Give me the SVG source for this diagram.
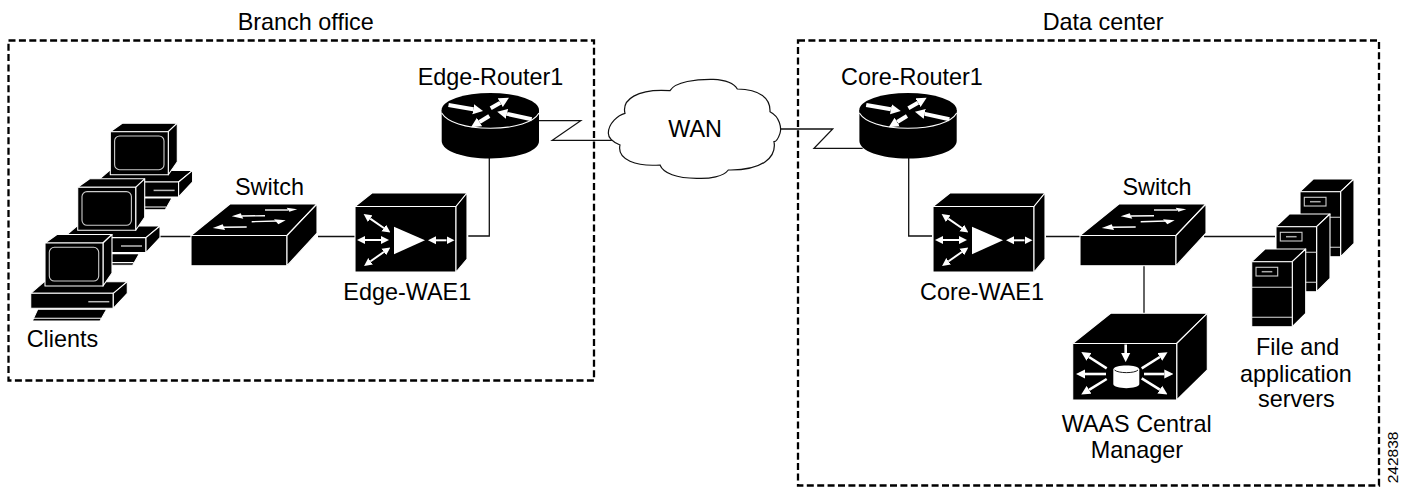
<svg xmlns="http://www.w3.org/2000/svg" width="1404" height="487" viewBox="0 0 1404 487">
<style>
text{font-family:"Liberation Sans",Arial,sans-serif;font-size:23.4px;fill:#000}
.box{fill:none;stroke:#000;stroke-width:2.3;stroke-dasharray:7 3.4}
.con{fill:none;stroke:#111;stroke-width:1.3}
.k{fill:#000;stroke:#fff;stroke-width:1.1;stroke-linejoin:round}
.g{fill:none;stroke:#ccc;stroke-width:1.1}
.w{fill:#fff;stroke:none}
.a4{stroke:#fff;stroke-width:4;fill:none;marker-end:url(#h)}
.a2{stroke:#fff;stroke-width:2;fill:none;marker-start:url(#hs);marker-end:url(#hs)}
.a1{stroke:#fff;stroke-width:1.4;fill:none}
.am{stroke:#fff;stroke-width:2.6;fill:none;marker-end:url(#hm)}
</style>
<defs>
<marker id="h" viewBox="0 0 10 10" refX="0" refY="5" markerWidth="2.5" markerHeight="2.8" orient="auto"><path d="M0,0L10,5L0,10z" fill="#fff"/></marker>
<marker id="hs" viewBox="0 0 10 10" refX="0" refY="5" markerWidth="4" markerHeight="4.4" orient="auto-start-reverse"><path d="M0,0L10,5L0,10z" fill="#fff"/></marker>
<marker id="hm" viewBox="0 0 10 10" refX="0" refY="5" markerWidth="3.5" markerHeight="3.8" orient="auto"><path d="M0,0L10,5L0,10z" fill="#fff"/></marker>
<g id="pc">
<polygon class="k" points="30.7,293.3 44.3,281.7 127.3,281.7 113.3,293.3"/>
<rect class="k" x="30.7" y="293.3" width="82.6" height="15"/>
<polygon class="k" points="127.3,281.7 127.3,293.3 113.3,308.3 113.3,293.3"/>
<line x1="88.3" y1="301.7" x2="109.3" y2="301.7" stroke="#bbb" stroke-width="1.5"/>
<polygon class="k" points="37.7,309.3 106.7,309.3 100,321 32.3,321"/>
<line x1="33.5" y1="318.3" x2="101" y2="318.3" stroke="#fff" stroke-width="1.1"/>
<polygon class="k" points="45,243 57,234.5 112,234.5 103,243"/>
<polygon class="k" points="103,243 112,234.5 112,273 103,286"/>
<rect class="k" x="45" y="243" width="58" height="43"/>
<rect class="g" x="49.3" y="247.3" width="49.4" height="33.7" rx="5"/>
</g>
<g id="switch">
<polygon class="k" points="191,235.5 230,204 317,204 287,235.5"/>
<rect class="k" x="191" y="235.5" width="96" height="30.2"/>
<polygon class="k" points="317,204 317,233 287,265.7 287,235.5"/>
<line class="a1" x1="265" y1="210" x2="288" y2="210"/>
<polygon class="w" points="286.7,207.7 297.3,209.3 289.3,211.7"/>
<line class="a1" x1="265" y1="215.7" x2="241.7" y2="216"/>
<polygon class="w" points="240.7,213.3 231.7,216.3 243.3,218.7"/>
<line class="a1" x1="251.7" y1="221.7" x2="276.7" y2="221"/>
<polygon class="w" points="274,219.3 285.7,220.3 278.3,224.3"/>
<line class="a1" x1="246.7" y1="227" x2="221.7" y2="227.3"/>
<polygon class="w" points="222.7,224.3 212.7,228 225,230"/>
</g>
<g id="wae">
<polygon class="k" points="355,206.5 372,193 467,193 456,206.5"/>
<rect class="k" x="355" y="206.5" width="101" height="65.5"/>
<polygon class="k" points="467,193 467,259 456,272 456,206.5"/>
<polygon class="w" points="394,226.7 425,240.3 394,254.3"/>
<line class="a2" x1="436" y1="240.3" x2="446.5" y2="240.3"/>
<line class="a2" x1="365" y1="240" x2="381" y2="240"/>
<line class="a2" x1="370.2" y1="218.6" x2="383.8" y2="228"/>
<line class="a2" x1="370.6" y1="261.3" x2="383.8" y2="252"/>
</g>
<g id="router">
<path d="M441.7,110V141C441.7,151 463,158.5 490.3,158.5S539,151 539,141V110z" fill="#000"/>
<ellipse cx="490.3" cy="110" rx="48.7" ry="17" fill="#000"/>
<path d="M441.7,113C447,122 465,128.3 490.3,128.3S534,122 539,113" fill="none" stroke="#fff" stroke-width="1.1"/>
<line class="a4" x1="448.5" y1="105" x2="473.2" y2="109.3"/>
<line class="a4" x1="490.7" y1="108.3" x2="500.3" y2="102.7"/>
<line class="a4" x1="531.7" y1="119.3" x2="507" y2="113.9"/>
<line class="a4" x1="489.3" y1="116" x2="479.5" y2="122"/>
</g>
<g id="server">
<polygon class="k" points="1251.7,261.7 1265,249 1305.7,249 1292.3,261.7"/>
<polygon class="k" points="1305.7,249 1305.7,313.3 1292.3,326.7 1292.3,261.7"/>
<rect class="k" x="1251.7" y="261.7" width="40.6" height="65"/>
<line x1="1252" y1="287.3" x2="1292" y2="287.3" stroke="#ddd" stroke-width="1.1"/>
<line x1="1252" y1="317.3" x2="1292" y2="317.3" stroke="#ddd" stroke-width="1.1"/>
<rect class="g" x="1256" y="267.3" width="21.7" height="8.7"/>
<line x1="1261.7" y1="271.7" x2="1272.3" y2="271.7" stroke="#aaa" stroke-width="1.5"/>
</g>
</defs>
<g id="areas">
<rect class="box" x="8.5" y="40.5" width="585.5" height="340"/>
<rect class="box" x="798" y="40.5" width="581" height="445"/>
<text x="237.7" y="30">Branch office</text>
<text x="1042.7" y="30">Data center</text>
</g>
<g id="connectors">
<polyline class="con" points="156.7,236.5 191,236.5"/>
<polyline class="con" points="318,236.5 355,236.5"/>
<polyline class="con" points="468.3,236 489.3,236 489.3,158"/>
<polyline class="con" points="539,120.7 580.7,120.7 552.3,140.3 612,140.3"/>
<polyline class="con" points="779,129 832.7,129 814,148.3 862.7,148.3"/>
<polyline class="con" points="908.7,158 908.7,236 932,236"/>
<polyline class="con" points="1046,236.5 1080,236.5"/>
<polyline class="con" points="1204,236.5 1275,236.5"/>
<polyline class="con" points="1144,265.7 1144,313"/>
</g>
<g id="clients">
<use href="#pc" x="65.3" y="-111.3"/>
<use href="#pc" x="32.7" y="-55.7"/>
<use href="#pc"/>
<text x="26.7" y="346.7">Clients</text>
</g>
<g id="branch-switch"><use href="#switch"/><text x="235" y="195">Switch</text></g>
<g id="edge-wae1"><use href="#wae"/><text x="343.3" y="299.5">Edge-WAE1</text></g>
<g id="edge-router1"><use href="#router"/><text x="417.7" y="85">Edge-Router1</text></g>
<g id="wan">
<path transform="translate(600,70) scale(.3333)" fill="#fff" stroke="#111" stroke-width="3.6" d="M25,190C25,160 55,135 75,130C65,90 110,55 210,62C225,35 290,27 340,28C385,30 405,45 412,57C480,58 512,85 510,125C540,140 545,175 540,190C535,205 528,215 522,215C530,260 490,302 385,300C370,320 330,327 290,325C230,325 190,310 180,285C110,290 50,270 60,225C35,215 25,205 25,190z"/>
<text x="668.3" y="136.7">WAN</text>
</g>
<g id="core-router1"><use href="#router" x="417.7"/><text x="841" y="85">Core-Router1</text></g>
<g id="core-wae1"><use href="#wae" x="578"/><text x="920" y="300">Core-WAE1</text></g>
<g id="dc-switch"><use href="#switch" x="889"/><text x="1122.5" y="195">Switch</text></g>
<g id="servers">
<use href="#server" x="48.3" y="-70"/>
<use href="#server" x="24.3" y="-35"/>
<use href="#server"/>
<text x="1256" y="355">File and</text>
<text x="1240" y="381.7">application</text>
<text x="1258" y="407.3">servers</text>
</g>
<g id="waas-central-manager">
<polygon class="k" points="1072.7,343.5 1110.7,313.3 1207.3,313.3 1176.7,343.5"/>
<polygon class="k" points="1207.3,313.3 1207.3,370 1176.7,400 1176.7,343.5"/>
<rect class="k" x="1072.7" y="343.5" width="104" height="56.5"/>
<line class="am" x1="1125.7" y1="344.5" x2="1125.7" y2="353"/>
<line class="am" x1="1106.7" y1="368.3" x2="1089" y2="357"/>
<line class="am" x1="1106" y1="374" x2="1085" y2="374"/>
<line class="am" x1="1106.7" y1="379" x2="1089" y2="389.8"/>
<line class="am" x1="1141.7" y1="368.3" x2="1159.8" y2="357"/>
<line class="am" x1="1144" y1="374" x2="1164.3" y2="374"/>
<line class="am" x1="1141.7" y1="378.3" x2="1159.8" y2="389.6"/>
<path class="w" d="M1113.3,369.5C1113.3,364 1139.3,364 1139.3,369.5V384C1139.3,389.5 1113.3,389.5 1113.3,384z"/>
<path d="M1114.5,370C1118,373.5 1135,373.5 1138,370" fill="none" stroke="#000" stroke-width=".9"/>
<text x="1061.7" y="431.7">WAAS Central</text>
<text x="1090.7" y="458.3">Manager</text>
</g>
<text transform="translate(1398.3,483.3) rotate(-90)" style="font-size:15.5px">242838</text>
</svg>
